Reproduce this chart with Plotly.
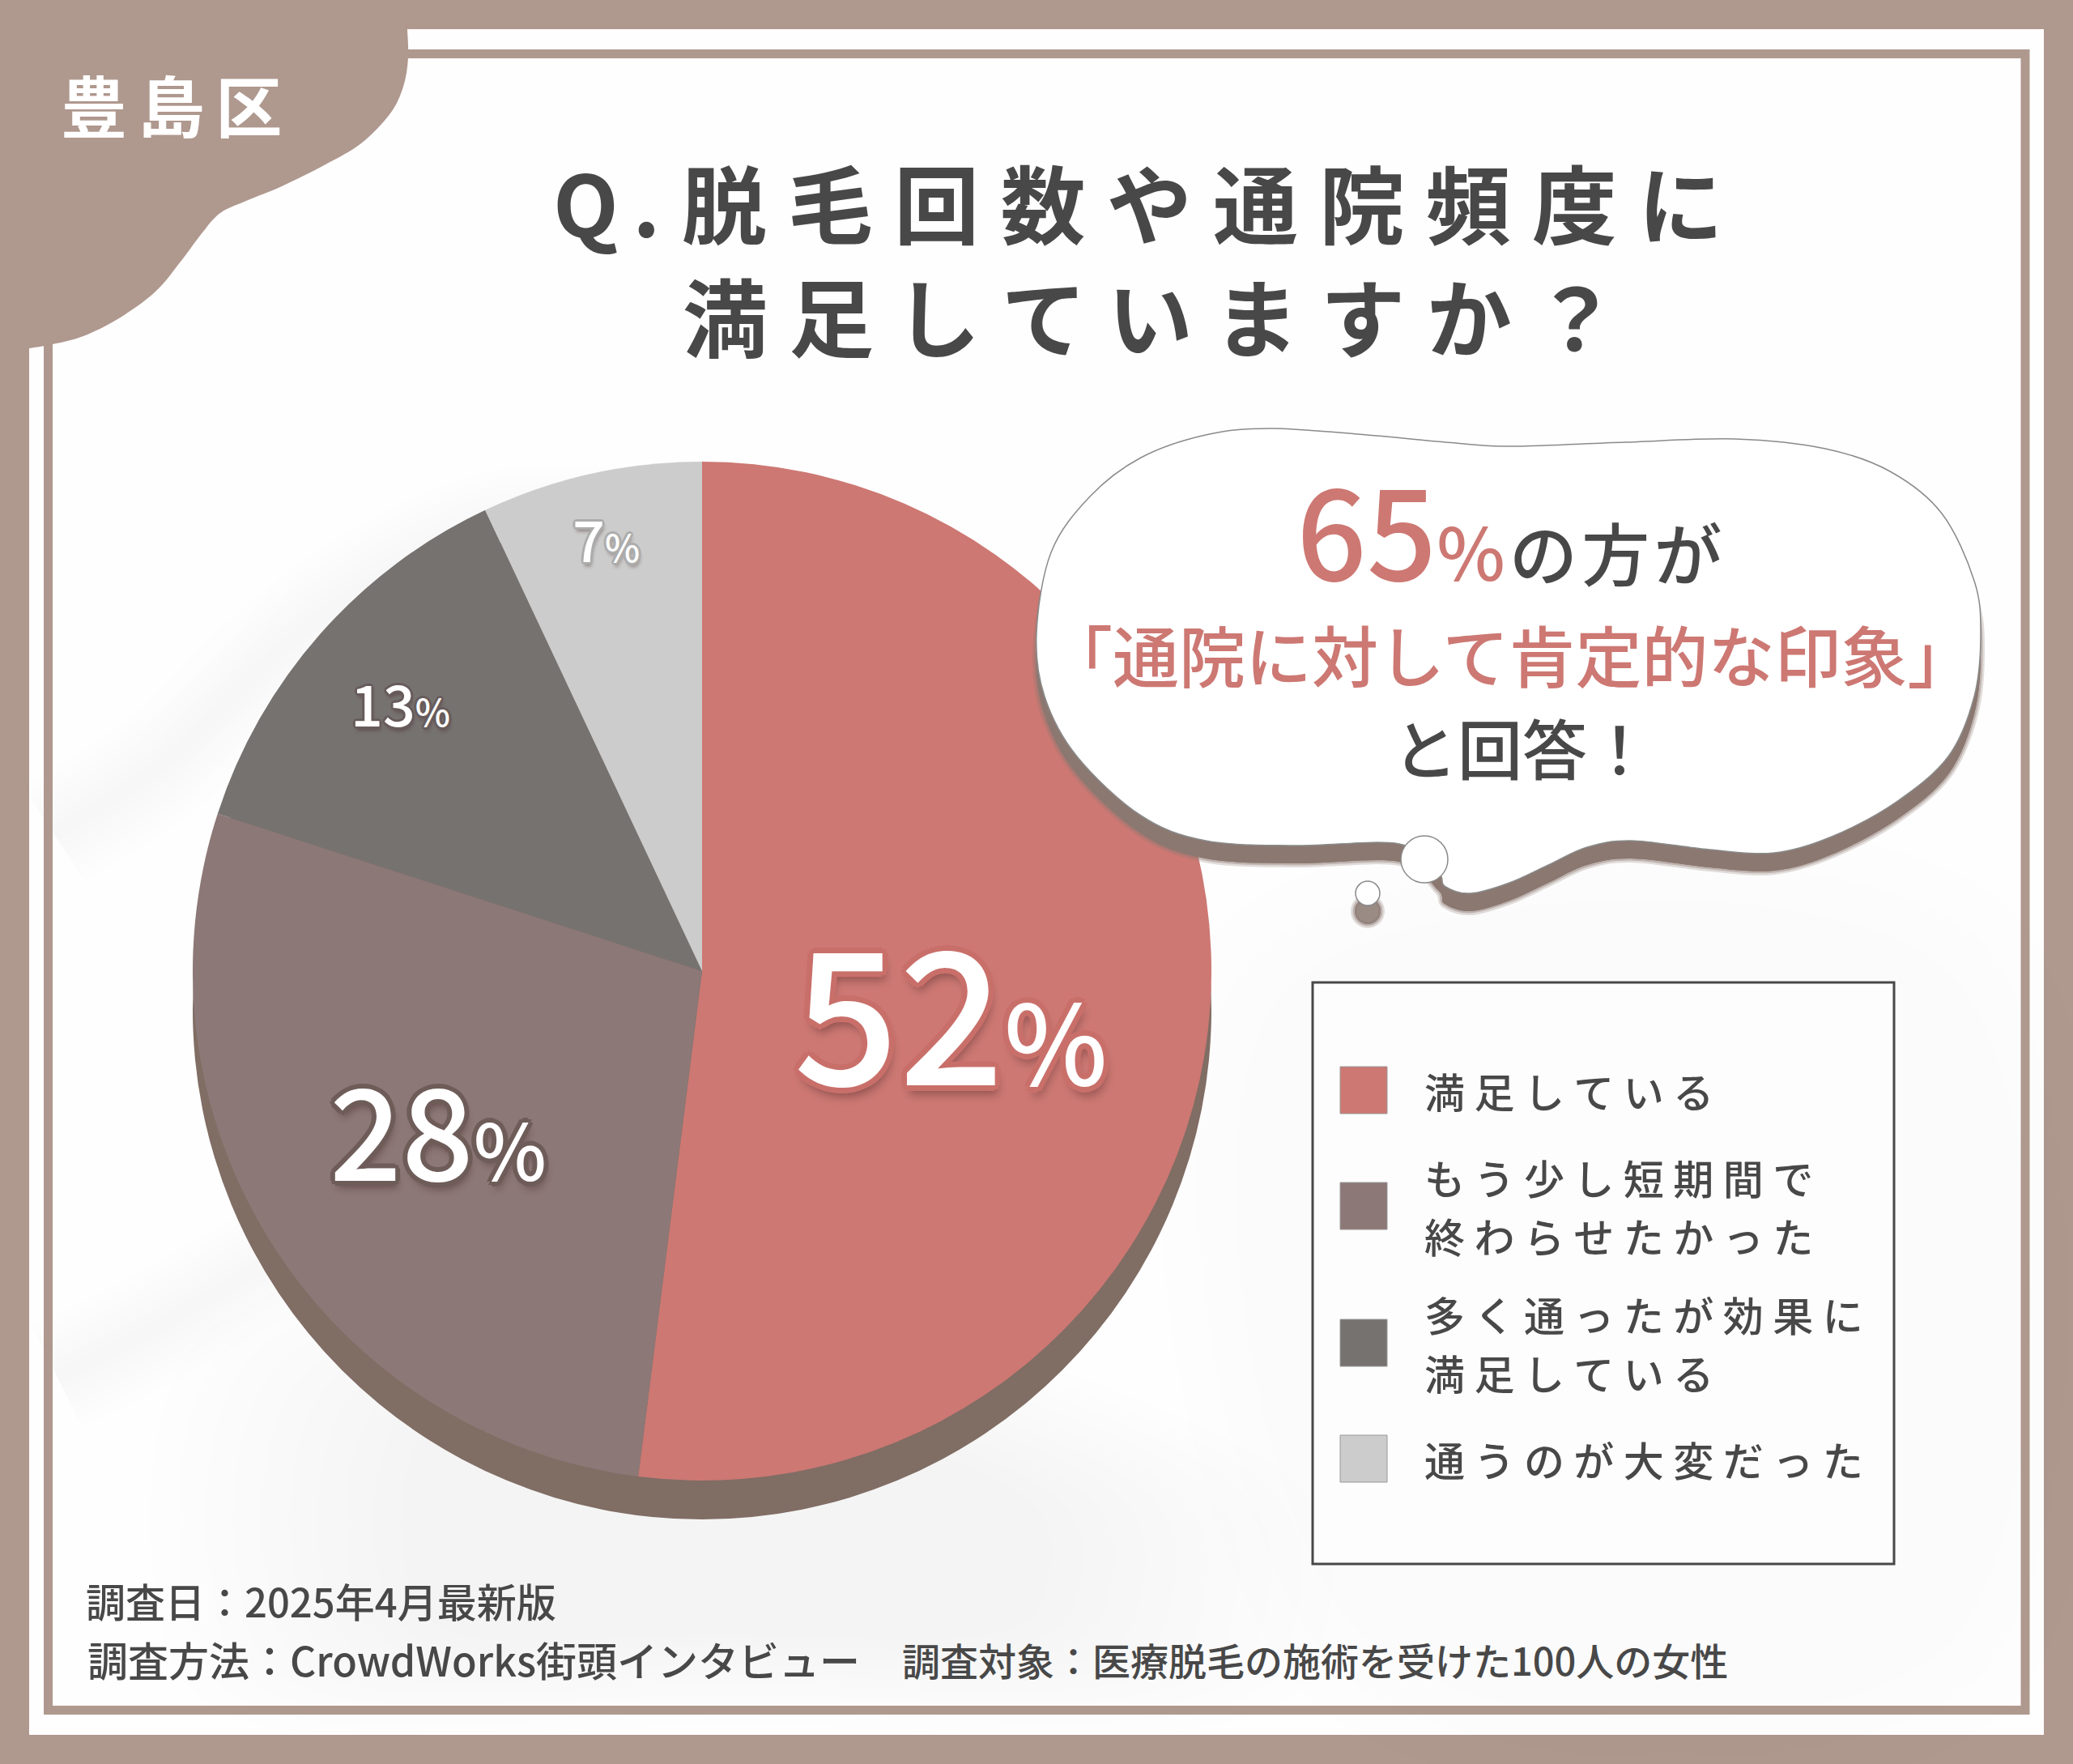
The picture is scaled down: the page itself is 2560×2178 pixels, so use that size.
import plotly.graph_objects as go

W, H = 2560, 2178

# survey data
categories = ["満足している", "もう少し短期間で<br>終わらせたかった", "多く通ったが効果に<br>満足している", "通うのが大変だった"]
values = [52, 28, 13, 7]

title_prefix = "Q\u2006."
title_lines = ["脱毛回数や通院頻度に", "満足していますか？"]
area_name = "豊島区"
footer_date = "調査日：2025年4月最新版"
footer_method = "調査方法：CrowdWorks街頭インタビュー"
footer_target = "調査対象：医療脱毛の施術を受けた100人の女性"

# styles
slice_colors = ["#CD7873", "#8C7876", "#767270", "#CCCCCC"]
band = "#AF988E"
ink = "#484848"
rose = "#CD7873"
font = "Noto Sans CJK JP"

# label layout, one per slice
label_xy = [(1174, 1241), (541, 1390), (494, 866), (748, 663)]
label_sizes = [(228, 136), (156, 96), (70, 46), (70, 46)]
label_rims = ["#C96F6A", "#6E5C59", "#675B5B", "#ACACAC"]
label_rim_px = [7, 6, 3, 3]
swatch_y = [1346, 1489, 1658, 1801]
legend_line_gap = 72


def px(x):
    return x / W


def py(y):
    return 1 - y / H


def pt(p):
    return f"{px(p[0]):.5f},{py(p[1]):.5f}"


def spaced(text, sep):
    return sep.join(text)


def curve(points, closed=False):
    # catmull-rom segments through the points, as svg cubics in paper coords
    n = len(points)
    d = ""
    for i in range(n if closed else n - 1):
        if closed:
            p0, p1, p2, p3 = points[i - 1], points[i], points[(i + 1) % n], points[(i + 2) % n]
        else:
            p0, p1, p2, p3 = points[max(i - 1, 0)], points[i], points[i + 1], points[min(i + 2, n - 1)]
        c1 = (p1[0] + (p2[0] - p0[0]) / 6, p1[1] + (p2[1] - p0[1]) / 6)
        c2 = (p2[0] - (p3[0] - p1[0]) / 6, p2[1] - (p3[1] - p1[1]) / 6)
        d += f" C{pt(c1)} {pt(c2)} {pt(p2)}"
    return d


def closed_path(points, dy=0):
    pts = [(x, y + dy) for x, y in points]
    return "M" + pt(pts[0]) + curve(pts, closed=True) + " Z"


def rect(x0, y0, x1, y1, **kw):
    return dict(type="rect", xref="paper", yref="paper", x0=px(x0), x1=px(x1), y0=py(y0), y1=py(y1), **kw)


def circle(cx, cy, r, **kw):
    return dict(type="circle", xref="paper", yref="paper", x0=px(cx - r), x1=px(cx + r), y0=py(cy - r), y1=py(cy + r), **kw)


def path(d, **kw):
    return dict(type="path", xref="paper", yref="paper", path=d, **kw)


def label(x, y, text, size, color=ink, weight=400, anchor="center", align="center", shadow=None):
    f = dict(family=font, size=size, color=color, weight=weight)
    if shadow:
        f["shadow"] = shadow
    return dict(xref="paper", yref="paper", x=px(x), y=py(y), text=text, showarrow=False,
                xanchor=anchor, yanchor="middle", align=align, font=f)


def rim_shadow(color, w):
    # outline in the slice colour with a soft drop underneath
    ring = [(w, 0), (-w, 0), (0, w), (0, -w), (w * 0.7, w * 0.7), (-w * 0.7, w * 0.7), (w * 0.7, -w * 0.7), (-w * 0.7, -w * 0.7)]
    parts = [f"{a:.1f}px {b:.1f}px 0 {color}" for a, b in ring]
    parts.append(f"{w * 0.5:.1f}px {w * 1.5:.1f}px {w * 1.5:.1f}px rgba(70,40,40,0.45)")
    return ", ".join(parts)


def smudge(points, layers=10, step=0.05, alpha=0.004):
    # shrinking translucent copies stand in for the blurred paper texture
    mx = sum(p[0] for p in points) / len(points)
    my = sum(p[1] for p in points) / len(points)
    out = []
    for k in range(layers):
        s = 1 - k * step
        pts = [(mx + (x - mx) * s, my + (y - my) * s) for x, y in points]
        out.append(path(closed_path(pts), fillcolor=f"rgba(0,0,0,{alpha})", line_width=0, layer="below"))
    return out


def streak(points, alpha=0.004, widths=(20, 40, 60, 80, 100, 120, 140)):
    d = "M" + pt(points[0]) + curve(points)
    return [path(d, line=dict(color=f"rgba(0,0,0,{alpha})", width=w), layer="below") for w in widths]


cx, cy, r = 867, 1199, 629
drop = 48
domain = dict(x=[px(cx - r), px(cx + r)], y=[py(cy + r), py(cy - r)])
domain_drop = dict(x=domain["x"], y=[py(cy + r + drop), py(cy - r + drop)])

fig = go.Figure()
# a full disc dropped below the pie gives it its thickness
fig.add_trace(go.Pie(values=[sum(values)], sort=False, domain=domain_drop,
                     marker=dict(colors=["#806D64"], line=dict(width=0)),
                     textinfo="none", hoverinfo="skip", showlegend=False))
fig.add_trace(go.Pie(labels=categories, values=values, sort=False, direction="clockwise", rotation=0, domain=domain,
                     marker=dict(colors=slice_colors, line=dict(width=0)),
                     textinfo="none", showlegend=False))

blob = [(503, 36), (504, 72), (498, 107), (482, 140), (446, 177), (402, 203), (348, 230), (304, 248), (272, 263),
        (250, 287), (223, 323), (192, 360), (147, 393), (103, 415), (65, 425), (36, 430)]
blob_d = "M0,1 L" + pt((503, 0)) + " L" + pt(blob[0]) + curve(blob) + " L" + pt((0, 432)) + " Z"

bubble = [(1569, 529), (1688, 537), (1808, 548), (1872, 551), (2007, 546), (2143, 542), (2254, 554), (2334, 582),
          (2398, 634), (2438, 717), (2446, 782), (2438, 860), (2406, 934), (2342, 990), (2262, 1033), (2191, 1053),
          (2111, 1049), (2015, 1038), (1960, 1046), (1912, 1068), (1864, 1090), (1816, 1103), (1784, 1094),
          (1776, 1077), (1728, 1042), (1601, 1044), (1489, 1038), (1409, 1007), (1330, 934), (1290, 860),
          (1280, 782), (1298, 682), (1346, 613), (1409, 565), (1489, 537)]

shapes = [rect(36, 36, 2524, 2142, fillcolor="#FEFEFE", line_width=0, layer="below")]
# faint paper texture
shapes += smudge([(240, 1660), (520, 1560), (1000, 1600), (1560, 1800), (1640, 2000), (1500, 2130), (900, 2130),
                  (320, 2130), (190, 1950)])
shapes += smudge([(1500, 1150), (2480, 1120), (2490, 2100), (1620, 2100)], layers=3, step=0.08)
shapes += streak([(66, 1030), (204, 940), (332, 815), (459, 720), (620, 650), (800, 650)])
shapes += streak([(70, 1700), (190, 1640), (330, 1560)])
shapes += [
    rect(59.5, 66.5, 2501, 2111.5, line=dict(color=band, width=11), layer="below"),
    path(blob_d, fillcolor=band, line_width=0, layer="below"),
]
# speech bubble, soft shadow first
for w, a in [(10, 0.25), (5, 0.4)]:
    shapes.append(path(closed_path(bubble, dy=22), fillcolor="#8B7871",
                       line=dict(color=f"rgba(139,120,113,{a})", width=w), layer="above"))
    shapes.append(circle(1689, 1125, 16, fillcolor="#9A8B85", line=dict(color=f"rgba(139,120,113,{a})", width=w), layer="above"))
shapes += [
    path(closed_path(bubble), fillcolor="#FFFFFF", line=dict(color="#8A8A8A", width=1.5), layer="above"),
    circle(1759, 1061, 29, fillcolor="#FFFFFF", line=dict(color="#8A8A8A", width=1.5), layer="above"),
    circle(1689, 1103, 15, fillcolor="#FFFFFF", line=dict(color="#8A8A8A", width=1.5), layer="above"),
    # legend box
    rect(1621, 1213, 2339, 1931, fillcolor="rgba(255,255,255,0.5)", line=dict(color=ink, width=3), layer="above"),
]
for color, y in zip(slice_colors, swatch_y):
    shapes.append(rect(1655, y - 29, 1713, y + 29, fillcolor=color, line=dict(color="#999999", width=1), layer="above"))

annotations = [
    label(211, 128, spaced(area_name, "\u2006"), 82, color="#FFFFFF", weight=700),
    label(1405, 247, title_prefix + "\u2005" + spaced(title_lines[0], "\u2005"), 105, weight=700),
    label(1420, 387, spaced(title_lines[1], "\u2005"), 105, weight=700),
    label(1864, 651, f'65<span style="font-size:90px">%</span>'
          f'<span style="font-size:84px;font-weight:500;color:{ink}">\u200aの\u200a方\u200aが</span>', 152, color=rose, weight=500),
    label(1865, 806, "「通院に対して肯定的な印象」", 82, color=rose, weight=500),
    label(1880, 921, "と回答！", 80, weight=500),
    label(104, 1975, footer_date, 49, weight=500, anchor="left", align="left"),
    label(106, 2048, footer_method, 50, weight=500, anchor="left", align="left"),
    label(1112, 2048, footer_target, 47, weight=500, anchor="left", align="left"),
]
for v, (x, y), (big, small), rim, w in zip(values, label_xy, label_sizes, label_rims, label_rim_px):
    annotations.append(label(x, y, f'{v}<span style="font-size:{small}px">%</span>', big,
                             color="#FFFFFF", weight=500, shadow=rim_shadow(rim, w)))
for name, y in zip(categories, swatch_y):
    parts = name.split("<br>")
    for i, part in enumerate(parts):
        line_y = y + (i - (len(parts) - 1) / 2) * legend_line_gap
        annotations.append(label(1757, line_y, spaced(part, "\u2006\u200a"), 50, weight=500, anchor="left", align="left"))

fig.update_layout(width=W, height=H, margin=dict(l=0, r=0, t=0, b=0), paper_bgcolor=band,
                  shapes=shapes, annotations=annotations, showlegend=False)

# the page's default body margin would shift everything by 8px
fig.write_html("out.html", config=dict(displayModeBar=False), post_script="document.body.style.margin='0';")
